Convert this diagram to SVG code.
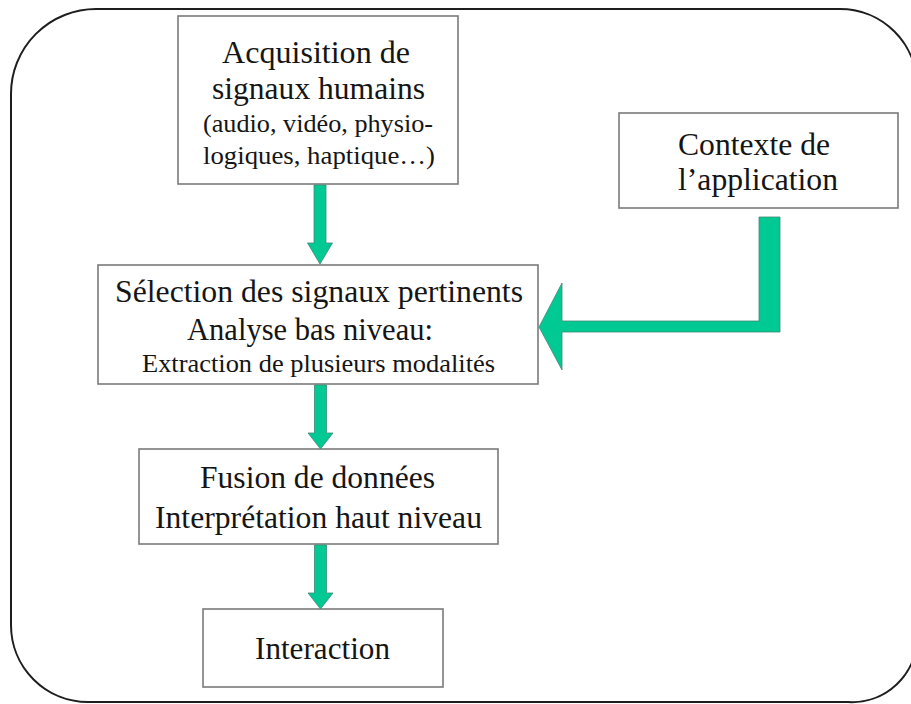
<svg xmlns="http://www.w3.org/2000/svg" width="911" height="704" viewBox="0 0 911 704">
  <style>
    .box { fill: #ffffff; stroke: #7a7a7a; stroke-width: 1.6; }
    text { font-family: "Liberation Serif", "Tinos", "Times New Roman", "DejaVu Serif", serif; fill: #151515; text-anchor: middle; }
    .big { font-size: 31.5px; }
    .small { font-size: 26px; }
    .flow { fill: #00c994; stroke: #3f8a74; stroke-width: 0.8; stroke-linejoin: miter; }
  </style>
  <rect width="911" height="704" fill="#ffffff"/>

  <!-- outer rounded frame -->
  <path id="frame" d="M 96,9 H 840 A 77 77 0 0 1 917 86 V 637 A 65 65 0 0 1 848 702 H 88 A 77 77 0 0 1 11 625 V 94 A 85 85 0 0 1 96 9 Z" fill="none" stroke="#1e1e1e" stroke-width="2"/>

  <g id="acquisition">
    <rect class="box" x="178" y="16" width="280" height="168"/>
    <text class="big" x="316" y="63" textLength="188" lengthAdjust="spacingAndGlyphs">Acquisition de</text>
    <text class="big" x="318.5" y="99" textLength="213" lengthAdjust="spacingAndGlyphs">signaux humains</text>
    <text class="small" x="318" y="132" textLength="230" lengthAdjust="spacingAndGlyphs">(audio, vidéo, physio-</text>
    <text class="small" x="319" y="164" textLength="232" lengthAdjust="spacingAndGlyphs">logiques, haptique…)</text>
  </g>

  <g id="contexte">
    <rect class="box" x="619" y="113" width="279" height="95"/>
    <text class="big" x="754" y="155" textLength="152" lengthAdjust="spacingAndGlyphs">Contexte de</text>
    <text class="big" x="758" y="190" textLength="160" lengthAdjust="spacingAndGlyphs">l’application</text>
  </g>

  <g id="selection">
    <rect class="box" x="98" y="265" width="440" height="119"/>
    <text class="big" x="319" y="302" textLength="408" lengthAdjust="spacingAndGlyphs">Sélection des signaux pertinents</text>
    <text class="big" x="310" y="340" textLength="246" lengthAdjust="spacingAndGlyphs">Analyse bas niveau:</text>
    <text class="small" x="318.5" y="372" textLength="353" lengthAdjust="spacingAndGlyphs">Extraction de plusieurs modalités</text>
  </g>

  <g id="fusion">
    <rect class="box" x="139" y="449" width="359" height="95"/>
    <text class="big" x="317.5" y="488" textLength="235" lengthAdjust="spacingAndGlyphs">Fusion de données</text>
    <text class="big" x="318.5" y="528" textLength="327" lengthAdjust="spacingAndGlyphs">Interprétation haut niveau</text>
  </g>

  <g id="interaction">
    <rect class="box" x="203" y="609" width="240" height="78"/>
    <text class="big" x="322.5" y="659" textLength="135" lengthAdjust="spacingAndGlyphs">Interaction</text>
  </g>

  <g id="connectors">
    <polygon class="flow" points="314,185 326,185 326,243 332.5,243 320,264 307.5,243 314,243"/>
    <polygon class="flow" points="314.5,385 326.5,385 326.5,433 333,433 320.5,449 308,433 314.5,433"/>
    <polygon class="flow" points="314.5,545 326.5,545 326.5,593 333,593 320.5,609 308,593 314.5,593"/>
    <path class="flow" d="M 759,217 H 780 V 332 H 562 V 370 L 539,327 L 562,283 V 321 H 759 Z"/>
  </g>
</svg>
